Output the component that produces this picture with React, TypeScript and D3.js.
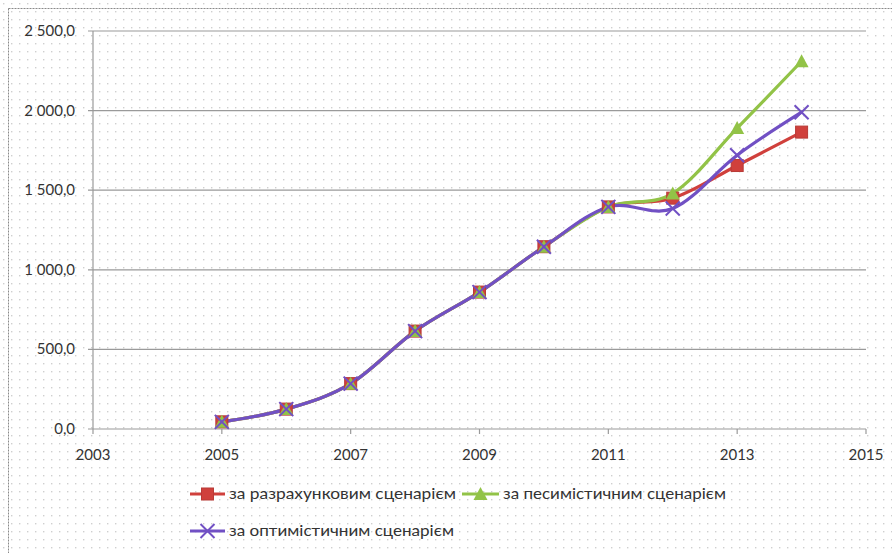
import * as d3 from "d3";

const W = 892;
const H = 553;

const years = [2005, 2006, 2007, 2008, 2009, 2010, 2011, 2012, 2013, 2014];
const baseline = [45, 125, 285, 615, 860, 1145, 1395, 1450, 1655, 1865];
const pessimistic = [45, 125, 285, 615, 860, 1145, 1395, 1480, 1890, 2310];
const optimistic = [45, 125, 285, 615, 860, 1145, 1395, 1385, 1720, 1990];

const xTicks = [2003, 2005, 2007, 2009, 2011, 2013, 2015];
const yTicks = [0, 500, 1000, 1500, 2000, 2500];

const labels = [
  "за разрахунковим сценарієм",
  "за песимістичним сценарієм",
  "за оптимістичним сценарієм",
];

const RED = "#D0403C";
const GREEN = "#92C347";
const PURPLE = "#7150C4";
const FONT = "Lato, 'Open Sans', sans-serif";

const L = 93;
const R = 866;
const T = 31;
const B = 429;

const fmt = (v: number) => {
  const s = v.toFixed(1).replace(".", ",");
  const [a, b] = s.split(",");
  const grouped = a.length > 3 ? a.slice(0, a.length - 3) + " " + a.slice(-3) : a;
  return `${grouped},${b}`;
};

function Marker({ kind, x, y }: { kind: string; x: number; y: number }) {
  if (kind === "square")
    return <rect x={x - 6} y={y - 6} width={12} height={12} fill={RED} stroke="#B83A36" strokeWidth={1} />;
  if (kind === "tri")
    return <path d={`M${x},${y - 7}L${x + 7},${y + 6}L${x - 7},${y + 6}Z`} fill={GREEN} />;
  return (
    <g stroke={PURPLE} strokeWidth={2}>
      <line x1={x - 7} y1={y - 7} x2={x + 7} y2={y + 7} />
      <line x1={x - 7} y1={y + 7} x2={x + 7} y2={y - 7} />
    </g>
  );
}

export default function App() {
  const x = d3.scaleLinear().domain([2003, 2015]).range([L, R]);
  const y = d3.scaleLinear().domain([0, 2500]).range([B, T]);
  const line = d3
    .line<number>()
    .x((_, i) => x(years[i]))
    .y((d) => y(d))
    .curve(d3.curveCatmullRom.alpha(0));

  const series = [
    { data: baseline, color: RED, kind: "square" },
    { data: pessimistic, color: GREEN, kind: "tri" },
    { data: optimistic, color: PURPLE, kind: "x" },
  ];

  // legend text widths matched to the reference's Calibri run lengths
  const legend = [
    { x1: 190, x2: 225, ly: 494, color: RED, kind: "square", text: labels[0], tw: 227 },
    { x1: 462, x2: 499, ly: 494, color: GREEN, kind: "tri", text: labels[1], tw: 223 },
    { x1: 190, x2: 225, ly: 531, color: PURPLE, kind: "x", text: labels[2], tw: 225 },
  ];

  return (
    <svg
      width={W}
      height={H}
      style={{ position: "fixed", left: 0, top: 0, display: "block", background: "#fff" }}
      fontFamily={FONT}
    >
      <defs>
        <pattern id="dots" x={0} y={0} width={8} height={8} patternUnits="userSpaceOnUse">
          <rect x={3} y={3} width={1.4} height={1.4} fill="#cfcfcf" />
        </pattern>
      </defs>
      <rect x={0} y={0} width={W} height={H} fill="#fff" />
      <rect x={0} y={0} width={W} height={H} fill="url(#dots)" />
      <rect x={8.5} y={8.5} width={W - 4} height={H} fill="none" stroke="#8a8a8a" strokeWidth={1} strokeDasharray="2 1" />

      {/* gridlines */}
      {yTicks.map((t) => (
        <g key={t}>
          <line x1={L - 5} x2={R} y1={y(t)} y2={y(t)} stroke="#9a9a9a" strokeWidth={1.2} />
          <text x={75} y={y(t) + 5} textAnchor="end" fontSize={15} fill="#333">
            {fmt(t)}
          </text>
        </g>
      ))}
      <line x1={L} x2={L} y1={T} y2={B} stroke="#9a9a9a" strokeWidth={1.2} />
      {xTicks.map((t) => (
        <g key={t}>
          <line x1={x(t)} x2={x(t)} y1={B} y2={B + 5} stroke="#9a9a9a" strokeWidth={1.2} />
          <text x={x(t)} y={B + 31} textAnchor="middle" fontSize={15} fill="#333">
            {t}
          </text>
        </g>
      ))}

      {series.map((s) => (
        <path key={s.kind} d={line(s.data) ?? ""} fill="none" stroke={s.color} strokeWidth={3.2} />
      ))}
      {series.map((s) =>
        s.data.map((d, i) => <Marker key={s.kind + i} kind={s.kind} x={x(years[i])} y={y(d)} />)
      )}

      {legend.map((l) => (
        <g key={l.text}>
          <line x1={l.x1} x2={l.x2} y1={l.ly} y2={l.ly} stroke={l.color} strokeWidth={3} />
          <Marker kind={l.kind} x={(l.x1 + l.x2) / 2} y={l.ly} />
          <text
            x={l.x2 + 4}
            y={l.ly + 5}
            fontSize={16}
            textLength={l.tw}
            lengthAdjust="spacingAndGlyphs"
            fill="#333"
          >
            {l.text}
          </text>
        </g>
      ))}
    </svg>
  );
}
